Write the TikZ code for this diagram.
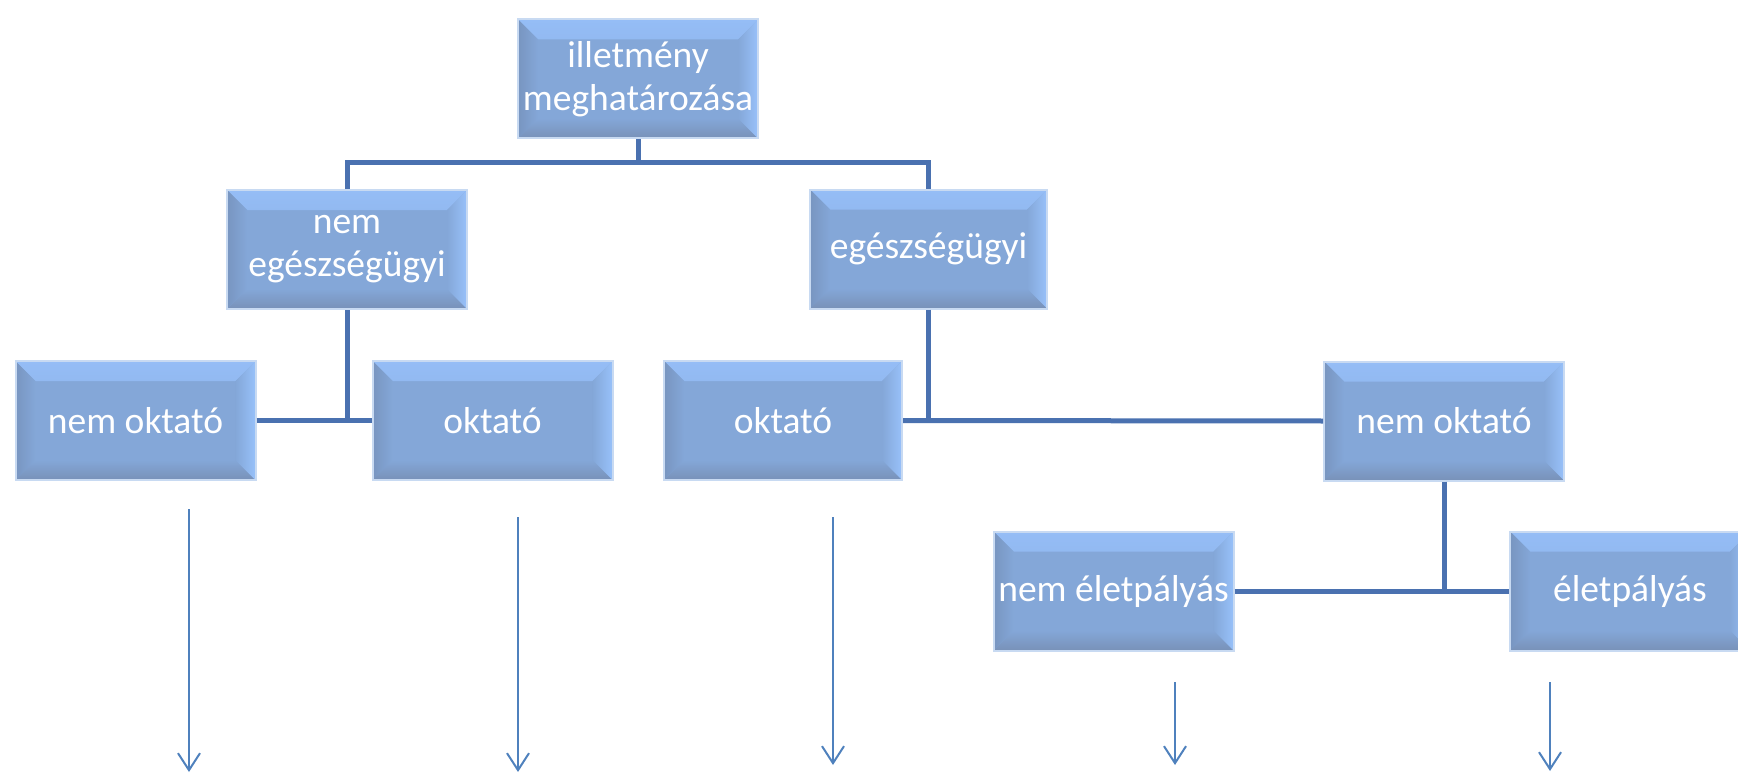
\documentclass[tikz,border=0pt]{standalone}
\usepackage{fontspec}
\setmainfont{Carlito}
\usetikzlibrary{arrows.meta}
\definecolor{boxc}{HTML}{84A7D8}
\definecolor{bevtop}{HTML}{95BDF6}
\definecolor{bevright}{HTML}{98C1FA}
\definecolor{bevleft}{HTML}{7895C0}
\definecolor{bevbot}{HTML}{7891B8}
\definecolor{boxedge}{HTML}{C8DAF2}
\definecolor{conn}{HTML}{4A71B0}
\definecolor{arr}{HTML}{4F81BD}
\tikzset{
  bx/.style={minimum width=240pt, minimum height=119pt, inner sep=0pt,
    text=white, font=\fontsize{37.5}{43}\selectfont, align=center,
    fill=boxc, draw=boxedge, line width=2pt,
    path picture={
      \shade[top color=bevtop, bottom color=boxc] (path picture bounding box.north west) -- (path picture bounding box.north east)
        -- ([xshift=-20pt,yshift=-20pt]path picture bounding box.north east)
        -- ([xshift=20pt,yshift=-20pt]path picture bounding box.north west) -- cycle;
      \shade[top color=boxc, bottom color=bevbot] (path picture bounding box.south west) -- (path picture bounding box.south east)
        -- ([xshift=-20pt,yshift=20pt]path picture bounding box.south east)
        -- ([xshift=20pt,yshift=20pt]path picture bounding box.south west) -- cycle;
      \shade[left color=bevleft, right color=boxc] (path picture bounding box.north west) -- (path picture bounding box.south west)
        -- ([xshift=20pt,yshift=20pt]path picture bounding box.south west)
        -- ([xshift=20pt,yshift=-20pt]path picture bounding box.north west) -- cycle;
      \shade[left color=boxc, right color=bevright] (path picture bounding box.north east) -- (path picture bounding box.south east)
        -- ([xshift=-20pt,yshift=20pt]path picture bounding box.south east)
        -- ([xshift=-20pt,yshift=-20pt]path picture bounding box.north east) -- cycle;
    }},
  conline/.style={draw=conn, line width=5pt},
  arrline/.style={draw=arr, line width=2pt, -{Straight Barb[length=17pt,width=22pt,line width=2pt]}}
}
\begin{document}
\begin{tikzpicture}[x=1pt,y=-1pt]
\useasboundingbox (0,0) rectangle (1738,773);
\node[bx] (top) at (638,79) {illetmény\\meghatározása};
\node[bx] (neg) at (347,249.5) {nem\\egészségügyi};
\node[bx, minimum width=237pt] (eg) at (928.5,249) {egészségügyi};
\node[bx] (no1) at (135.5,420.5) {nem oktató};
\node[bx] (ok1) at (492.5,420.5) {oktató};
\node[bx, minimum width=238pt] (ok2) at (783,420.5) {oktató};
\node[bx] (no2) at (1444,421) {nem oktató};
\node[bx] (nep) at (1113.5,591) {nem életpályás};
\node[bx] (ep) at (1630,591) {életpályás};

% connectors
\coordinate (j1) at (638,163);
\draw[conline] (top.south) -- (j1);
\draw[conline] (neg.north) -- (neg.north |- j1) -- (eg.north |- j1) -- (eg.north);
\coordinate (j2) at (347,420.5);
\draw[conline] (neg.south) -- (j2);
\draw[conline] (no1.east) -- (ok1.west);
\coordinate (j3) at (928.5,421);
\draw[conline] (eg.south) -- (j3);
\draw[conline] (ok2.east) -- (no2.west);
\coordinate (j4) at (1444,591);
\draw[conline] (no2.south) -- (j4);
\draw[conline] (nep.east) -- (ep.west);

% free arrows
\coordinate (a1s) at (189,509); \coordinate (a1e) at (189,772);
\coordinate (a2s) at (518,517); \coordinate (a2e) at (518,772);
\coordinate (a3s) at (833,517); \coordinate (a3e) at (833,765);
\coordinate (a4s) at (1175,682); \coordinate (a4e) at (1175,765);
\coordinate (a5s) at (1550,682); \coordinate (a5e) at (1550,771);
\draw[arrline] (a1s) -- (a1e);
\draw[arrline] (a2s) -- (a2e);
\draw[arrline] (a3s) -- (a3e);
\draw[arrline] (a4s) -- (a4e);
\draw[arrline] (a5s) -- (a5e);
\end{tikzpicture}
\end{document}
